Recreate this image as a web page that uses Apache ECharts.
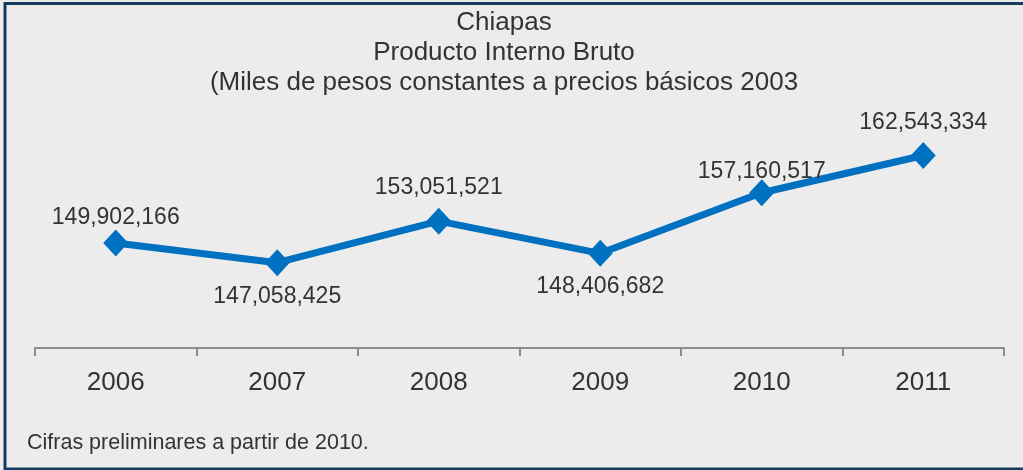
<!DOCTYPE html>
<html>
<head>
<meta charset="utf-8">
<script src="https://cdn.jsdelivr.net/npm/echarts@6/dist/echarts.min.js"></script>
<style>
html,body{margin:0;padding:0;background:#ececec;}
#chart{width:1023px;height:470px;}
</style>
</head>
<body>
<div id="chart"></div>
<script>
const categories = ['2006', '2007', '2008', '2009', '2010', '2011'];
const pibValues = [149902166, 147058425, 153051521, 148406682, 157160517, 162543334];
const labelPlacement = ['top', 'bottom', 'top', 'bottom', 'top', 'top'];
const labelDistance = [0, 9, 9, 8, -4, 8];
const titleLines = ['Chiapas', 'Producto Interno Bruto', '(Miles de pesos constantes a precios básicos 2003'];
const footnote = 'Cifras preliminares a partir de 2010.';

const fmt = v => v.toString().replace(/\B(?=(\d{3})+(?!\d))/g, ',');
const font = '"Liberation Sans", Arial, sans-serif';

const chart = echarts.init(document.getElementById('chart'), null, {renderer: 'canvas'});
chart.setOption({
  backgroundColor: '#ececec',
  animation: false,
  grid: {left: 35, right: 19, top: 100, bottom: 122},
  xAxis: {
    type: 'category',
    data: categories,
    boundaryGap: true,
    axisLine: {lineStyle: {color: '#8c8c8c', width: 2}},
    axisTick: {show: true, length: 8, lineStyle: {color: '#8c8c8c', width: 2}},
    axisLabel: {color: '#333', fontSize: 26, fontFamily: font, margin: 22}
  },
  yAxis: {
    type: 'value',
    min: 134730000,
    max: 170560000,
    show: false,
    splitLine: {show: false}
  },
  graphic: [
    {type: 'rect', silent: true, shape: {x: 5, y: 3.5, width: 1030, height: 465.5},
     style: {fill: 'none', stroke: '#163a5e', lineWidth: 3}},
    {type: 'text', x: 504, y: 8, silent: true,
     style: {text: titleLines.join('\n'), fill: '#333', font: '26px ' + font, lineHeight: 30,
             align: 'center', verticalAlign: 'top'}},
    {type: 'text', left: 27, top: 432, silent: true,
     style: {text: footnote, fill: '#333', font: '21.5px ' + font}}
  ],
  series: [{
    type: 'line',
    data: pibValues.map((v, i) => ({
      value: v,
      label: {position: labelPlacement[i], distance: labelDistance[i]}
    })),
    symbol: 'diamond',
    symbolSize: [25, 27],
    lineStyle: {color: '#0070c0', width: 7},
    itemStyle: {color: '#0070c0'},
    label: {
      show: true,
      color: '#333',
      fontSize: 23,
      fontFamily: font,
      formatter: p => fmt(p.value)
    }
  }]
});
</script>
</body>
</html>
